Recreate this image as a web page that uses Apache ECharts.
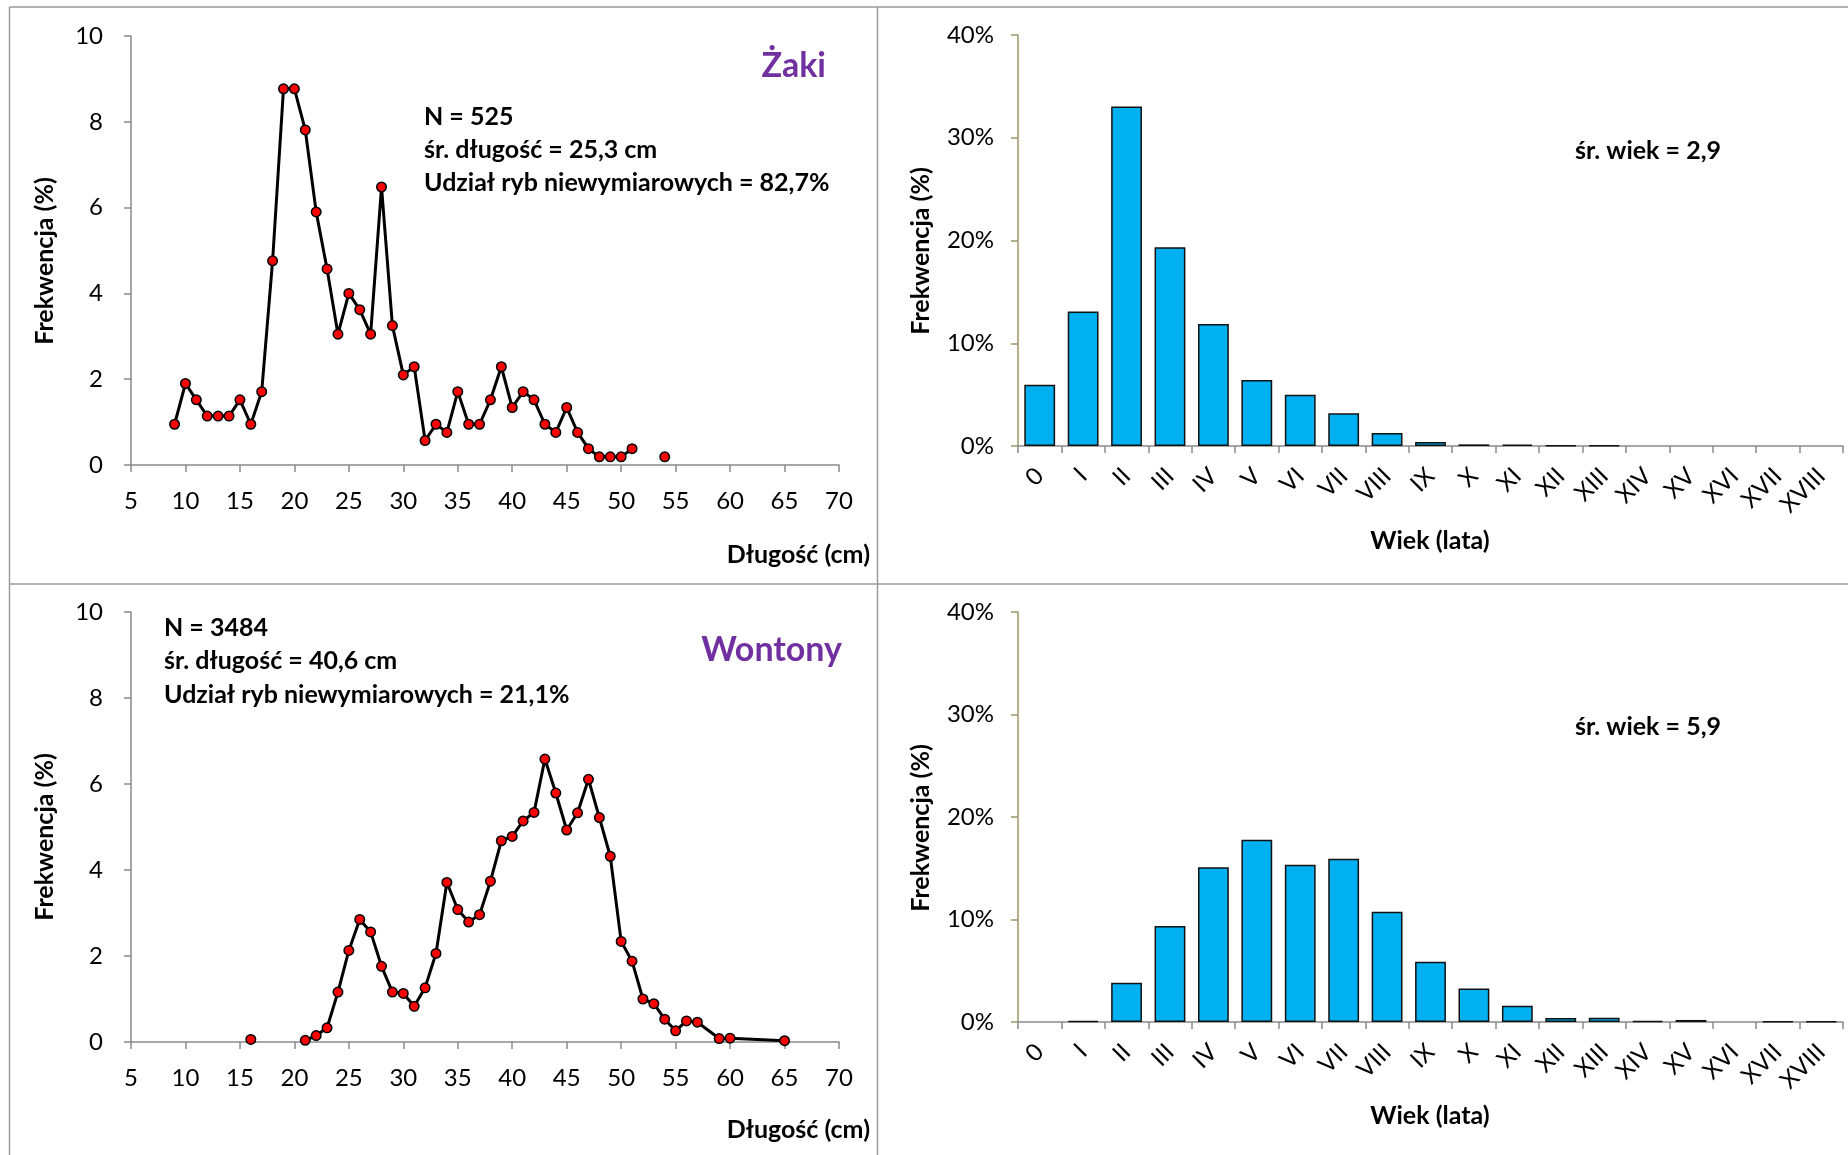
<!DOCTYPE html>
<html><head><meta charset="utf-8">
<script src="https://cdn.jsdelivr.net/npm/echarts@6/dist/echarts.min.js"></script>
<style>html,body{margin:0;padding:0;background:#fff}#c{width:1848px;height:1155px}</style>
</head><body><div id="c"></div>
<script>
// ---- data ----
const zakiLen  = [9,10,11,12,13,14,15,16,17,18,19,20,21,22,23,24,25,26,27,28,29,30,31,32,33,34,35,36,37,38,39,40,41,42,43,44,45,46,47,48,49,50,51,52,53,54];
const zakiFreq = [0.95,1.90,1.52,1.14,1.14,1.14,1.52,0.95,1.71,4.76,8.77,8.77,7.81,5.90,4.57,3.05,4.00,3.62,3.05,6.48,3.25,2.10,2.29,0.57,0.95,0.76,1.71,0.95,0.95,1.52,2.29,1.34,1.71,1.52,0.95,0.76,1.34,0.76,0.38,0.19,0.19,0.19,0.38,null,null,0.19];
const wontLen  = [16,17,18,19,20,21,22,23,24,25,26,27,28,29,30,31,32,33,34,35,36,37,38,39,40,41,42,43,44,45,46,47,48,49,50,51,52,53,54,55,56,57,59,60,65];
const wontFreq = [0.06,null,null,null,null,0.04,0.15,0.33,1.16,2.13,2.85,2.56,1.76,1.16,1.13,0.83,1.26,2.06,3.71,3.08,2.79,2.96,3.74,4.68,4.78,5.14,5.34,6.58,5.79,4.93,5.33,6.11,5.22,4.32,2.34,1.88,1.00,0.89,0.53,0.26,0.49,0.46,0.08,0.09,0.03];
const ageCats  = ['0','I','II','III','IV','V','VI','VII','VIII','IX','X','XI','XII','XIII','XIV','XV','XVI','XVII','XVIII'];
const zakiAge  = [5.97,13.08,33.05,19.35,11.88,6.43,5.00,3.18,1.27,0.39,0.16,0.13,0.06,0.06,0,0,0,0,0];
const wontAge  = [0,0.10,3.84,9.37,15.09,17.79,15.35,15.93,10.76,5.87,3.28,1.59,0.39,0.42,0.10,0.20,0,0.07,0.05];
const lenTicks = {min:5, max:70, interval:5};
const freqTicks = {min:0, max:10, interval:2};
const pctTicks = {min:0, max:40, interval:10};
const zakiStats = ['N = 525','śr. długość = 25,3 cm','Udział ryb niewymiarowych = 82,7%'];
const wontStats = ['N = 3484','śr. długość = 40,6 cm','Udział ryb niewymiarowych = 21,1%'];
const zakiAgeMean = 'śr. wiek = 2,9';
const wontAgeMean = 'śr. wiek = 5,9';

const FONT = 'Lato, "Open Sans", sans-serif';
const TICK = 24, BOLD = 25;
const chart = echarts.init(document.getElementById('c'), null, {renderer:'canvas'});
const grey = '#8a8a8a', olive = '#9c9668';

function pairs(xs, ys){ return xs.map((x,i)=>[x, ys[i]]); }
function bars(vals){ return vals.map(v => v === 0 ? {value:0, itemStyle:{borderWidth:0}} : v); }
function lenX(gi){ return {type:'value', gridIndex:gi, min:lenTicks.min, max:lenTicks.max, interval:lenTicks.interval,
  axisLine:{show:true, onZero:false, lineStyle:{color:grey, width:1.5}}, axisTick:{show:true, length:7, lineStyle:{color:grey, width:1.5}},
  splitLine:{show:false}, axisLabel:{fontFamily:FONT, fontSize:TICK, color:'#000', margin:24}}; }
function freqY(gi){ return {type:'value', gridIndex:gi, min:freqTicks.min, max:freqTicks.max, interval:freqTicks.interval,
  axisLine:{show:true, lineStyle:{color:grey, width:1.5}}, axisTick:{show:true, length:7, lineStyle:{color:grey, width:1.5}},
  splitLine:{show:false}, axisLabel:{fontFamily:FONT, fontSize:TICK, color:'#000', margin:28}}; }
function ageX(gi){ return {type:'category', gridIndex:gi, data:ageCats,
  axisLine:{show:true, lineStyle:{color:grey, width:1.5}}, axisTick:{show:true, length:7, lineStyle:{color:grey, width:1.5}},
  axisLabel:{fontFamily:FONT, fontSize:TICK, color:'#000', rotate:45, margin:26, interval:0}}; }
function pctY(gi){ return {type:'value', gridIndex:gi, min:pctTicks.min, max:pctTicks.max, interval:pctTicks.interval,
  axisLine:{show:true, lineStyle:{color:olive, width:1.5}}, axisTick:{show:true, length:7, lineStyle:{color:olive, width:1.5}},
  splitLine:{show:false}, axisLabel:{fontFamily:FONT, fontSize:TICK, color:'#000', margin:24, formatter:'{value}%'}}; }
function lineSeries(i, data){ return {type:'line', xAxisIndex:i, yAxisIndex:i, data:data, connectNulls:false,
  lineStyle:{color:'#000', width:3}, symbol:'circle', symbolSize:9.5, showAllSymbol:true,
  itemStyle:{color:'#ff0000', borderColor:'#000', borderWidth:1.5}, animation:false, z:3}; }
function barSeries(i, data){ return {type:'bar', xAxisIndex:i, yAxisIndex:i, data:bars(data), barCategoryGap:'29%',
  itemStyle:{color:'#00b0f0', borderColor:'#111', borderWidth:1.5}, animation:false}; }

function txt(x,y,s,opt){ return Object.assign({type:'text', x:x, y:y, style:Object.assign({text:s, fontFamily:FONT, fontSize:BOLD, fontWeight:'bold', fill:'#000', align:'left', verticalAlign:'middle'}, opt||{})}); }
function statLines(x,y0,lines){ return lines.map((s,i)=>txt(x, y0+i*33.3, s)); }
function vtxt(x,y,s){ return {type:'text', x:x, y:y, rotation:Math.PI/2, style:{text:s, fontFamily:FONT, fontSize:BOLD, fontWeight:'bold', fill:'#000', align:'center', verticalAlign:'middle'}}; }
function hline(x1,y1,x2,y2){ return {type:'line', shape:{x1:x1,y1:y1,x2:x2,y2:y2}, style:{stroke:'#9a9a9a', lineWidth:1.5}}; }

const graphics = [
  hline(9.5,7,1848,7), hline(9.5,7,9.5,1155), hline(877.5,7,877.5,1155), hline(9.5,584,1848,584),
  ...statLines(424,116.5,zakiStats),
  ...statLines(164,628,wontStats),
  txt(826,66,'Żaki',{align:'right', fontSize:34, fill:'#7030a0'}),
  txt(842,650,'Wontony',{align:'right', fontSize:34, fill:'#7030a0'}),
  txt(1648,151,zakiAgeMean,{align:'center'}),
  txt(1648,727,wontAgeMean,{align:'center'}),
  vtxt(45,261,'Frekwencja (%)'), vtxt(45,837,'Frekwencja (%)'),
  vtxt(921,251,'Frekwencja (%)'), vtxt(921,828,'Frekwencja (%)'),
  txt(870,555,'Długość (cm)',{align:'right'}), txt(870,1130,'Długość (cm)',{align:'right'}),
  txt(1430,541,'Wiek (lata)',{align:'center'}), txt(1430,1116,'Wiek (lata)',{align:'center'})
];

chart.setOption({
  animation:false,
  grid:[
    {left:131, top:36, width:708, height:429},
    {left:1018, top:35, width:825, height:411},
    {left:131, top:612, width:708, height:430},
    {left:1018, top:612, width:825, height:410}
  ],
  xAxis:[lenX(0), ageX(1), lenX(2), ageX(3)],
  yAxis:[freqY(0), pctY(1), freqY(2), pctY(3)],
  series:[lineSeries(0, pairs(zakiLen, zakiFreq)), barSeries(1, zakiAge), lineSeries(2, pairs(wontLen, wontFreq)), barSeries(3, wontAge)],
  graphic:graphics
});
</script></body></html>
